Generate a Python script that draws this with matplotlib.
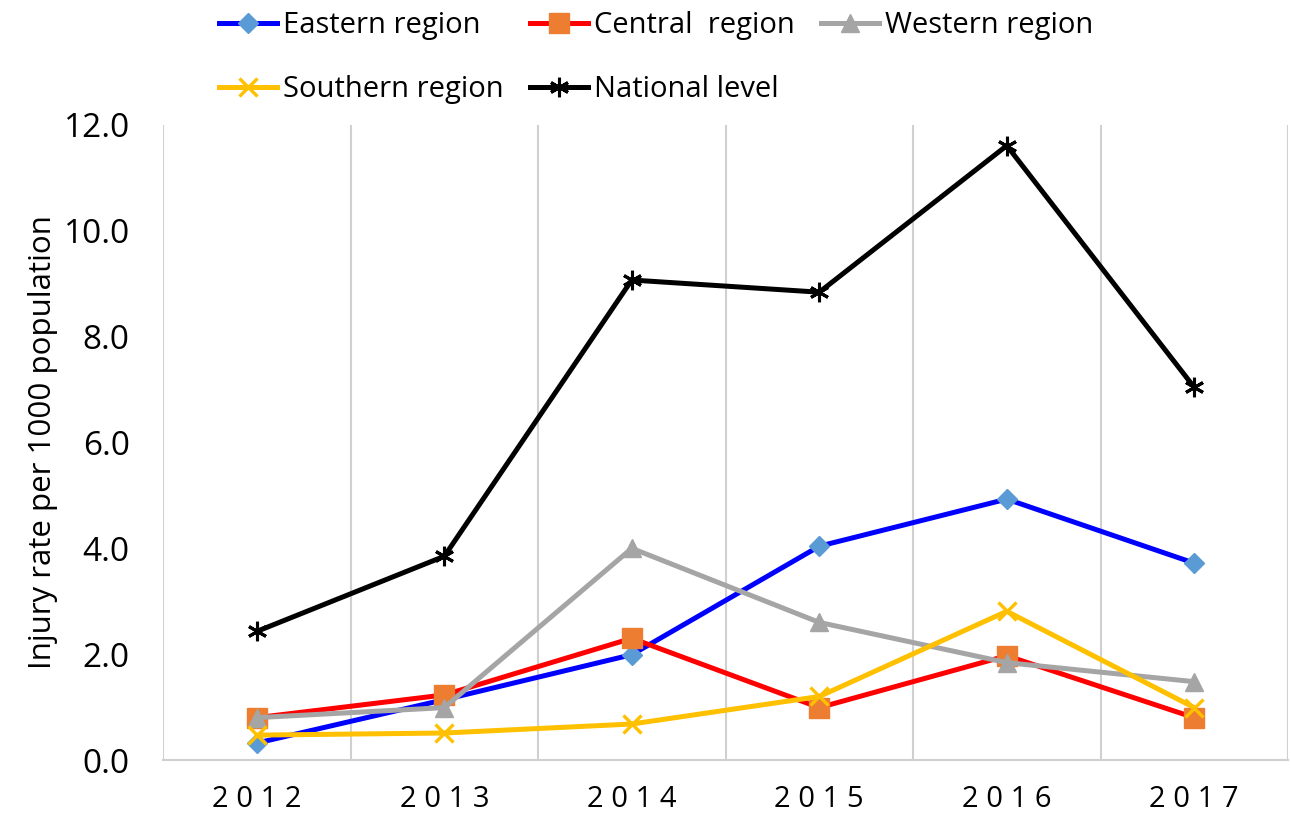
import numpy as np
import matplotlib
matplotlib.use("Agg")
import matplotlib.pyplot as plt

plt.rcParams['font.family'] = ['Open Sans', 'DejaVu Sans']

years = ['2012', '2013', '2014', '2015', '2016', '2017']
eastern = [0.32, 1.14, 1.99, 4.04, 4.93, 3.72]
central = [0.80, 1.23, 2.30, 0.99, 1.97, 0.80]
western = [0.80, 0.99, 4.00, 2.60, 1.84, 1.48]
southern = [0.47, 0.51, 0.68, 1.20, 2.81, 0.99]
national = [2.43, 3.85, 9.07, 8.84, 11.61, 7.04]

x = np.arange(len(years))

fig = plt.figure(figsize=(12.91, 8.26), dpi=100)
ax = fig.add_axes([0.1263, 0.0799, 0.8714, 0.7688])

h1, = ax.plot(x, eastern, color='#0000FF', lw=3.6, marker='D', ms=10.5,
              mfc='#5B9BD5', mec='#5B9BD5', label='Eastern region')
h2, = ax.plot(x, central, color='#FF0000', lw=3.6, marker='s', ms=15,
              mfc='#ED7D31', mec='#ED7D31', label='Central  region')
h3, = ax.plot(x, western, color='#A5A5A5', lw=3.6, marker='^', ms=13,
              mfc='#A5A5A5', mec='#A5A5A5', label='Western region')
h4, = ax.plot(x, southern, color='#FFC000', lw=3.6, marker='x', ms=13,
              mew=2.4, label='Southern region')
h5, = ax.plot(x, national, color='#000000', lw=3.6, marker=(6, 2, 0), ms=14,
              mew=2.2, label='National level')

ax.set_xlim(-0.5, len(years) - 0.5)
ax.set_ylim(0, 12)
ax.set_yticks(np.arange(0, 12.1, 2))
ax.set_yticklabels(['%.1f' % v for v in np.arange(0, 12.1, 2)], fontsize=24)
ax.set_xticks(x)
ax.set_xticklabels([' '.join(y) for y in years], fontsize=21)
ax.tick_params(length=0)
ax.tick_params(axis='x', pad=18)
ax.tick_params(axis='y', pad=24)

# vertical lines between categories
for b in np.arange(-0.5, len(years), 1.0):
    ax.axvline(b, color='#D0D0D0', lw=1.5, zorder=0)
for s in ['top', 'right', 'left']:
    ax.spines[s].set_visible(False)
ax.spines['bottom'].set_color('#D0D0D0')
ax.spines['bottom'].set_linewidth(1.5)

ax.set_ylabel('Injury rate per 1000 population', fontsize=22.5)
ax.yaxis.set_label_coords(-0.093, 0.5)

fig.legend([h1, h4, h2, h5, h3],
           [h.get_label() for h in [h1, h4, h2, h5, h3]],
           ncol=3, loc='upper left', bbox_to_anchor=(0.149, 1.018),
           frameon=False, fontsize=21, handlelength=2.0, handletextpad=0.2,
           columnspacing=0.9, labelspacing=1.2)

fig.savefig('out.png', dpi=100)
